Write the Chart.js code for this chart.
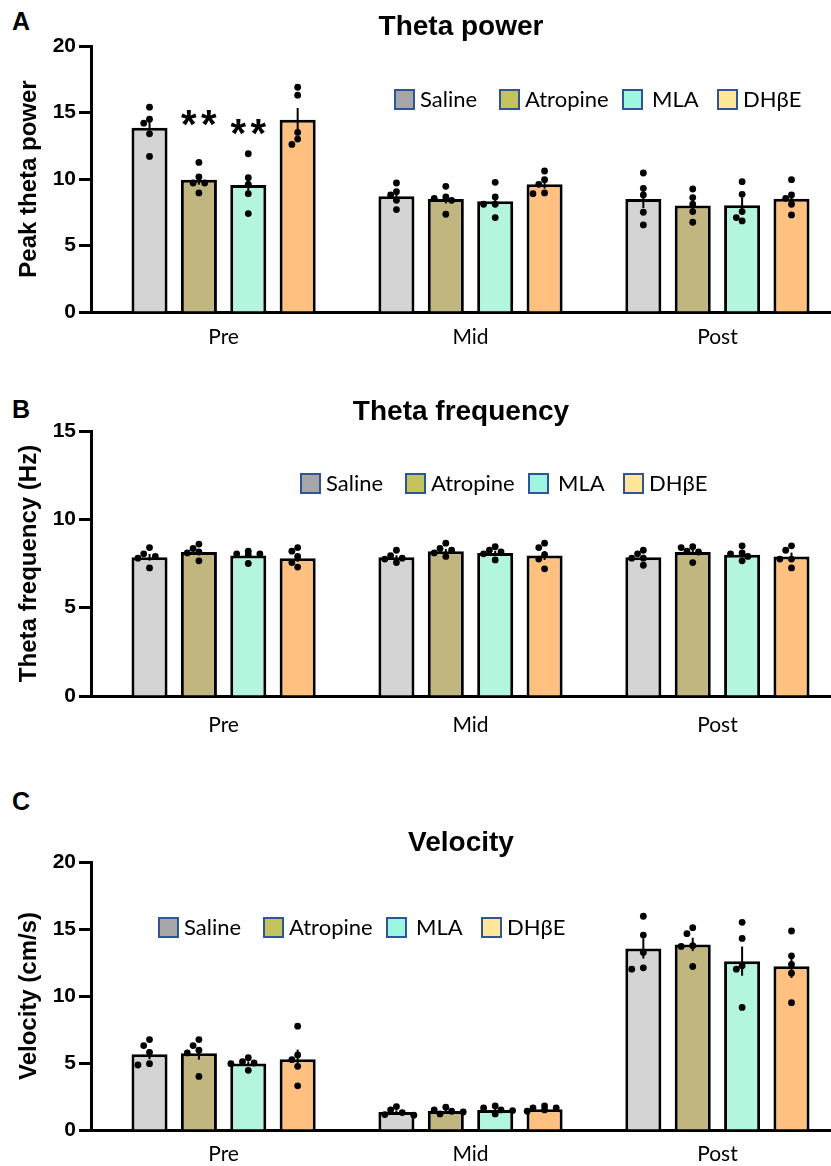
<!DOCTYPE html>
<html>
<head>
<meta charset="utf-8">
<script src="https://cdn.jsdelivr.net/npm/chart.js@4"></script>
<style>
html, body { margin: 0; padding: 0; background: #fff; overflow: hidden; }
body { width: 831px; height: 1166px; position: relative; }
.panel { position: absolute; left: 0; width: 831px; }
.letter { position: absolute; left: 12px; font: bold 25px/25px "Liberation Sans", Arial, sans-serif; color: #000; }
.legend-item { position: absolute; display: flex; align-items: center; height: 22px; font: 22px/22px Lato, "Open Sans", sans-serif; color: #000; white-space: nowrap; }
.legend-item i { display: block; width: 21px; height: 21px; box-sizing: border-box; border: 2.5px solid #2f5597; }
</style>
</head>
<body>
<div class="letter" style="top:9px">A</div>
<div class="letter" style="top:397px">B</div>
<div class="letter" style="top:789px">C</div>
<div class="panel" style="top:0;height:360px"><canvas id="chartPower"></canvas></div>
<div class="panel" style="top:385px;height:360px"><canvas id="chartFreq"></canvas></div>
<div class="panel" style="top:770px;height:396px"><canvas id="chartVel"></canvas></div>
<script>
const phases = ['Pre', 'Mid', 'Post'];
const groups = ['Saline', 'Atropine', 'MLA', 'DHβE'];
const barColors = ['#d4d4d4', '#c2b680', '#b4f5de', '#ffc080'];
const legendColors = ['#a6a6a6', '#c4c45e', '#9ef5e0', '#ffe699'];

// A - theta power (bar = mean, dots = animals)
const powerTicks = [0, 5, 10, 15, 20];
const powerSaline = [13.85, 8.7, 8.5];
const powerAtropine = [9.95, 8.5, 8.0];
const powerMLA = [9.55, 8.33, 8.03];
const powerDHbE = [14.45, 9.6, 8.52];
const powerSalineDots = [[15.4, 14.5, 14.2, 13.4, 11.7], [9.7, 9.05, 8.8, 8.4, 7.7], [10.45, 9.3, 8.8, 7.5, 6.55]];
const powerAtropineDots = [[11.25, 10.15, 9.7, 9.7, 8.95], [9.45, 8.65, 8.55, 8.4, 7.35], [9.25, 8.6, 8.1, 7.55, 6.75]];
const powerMLADots = [[11.9, 10.1, 9.6, 8.9, 7.4], [9.75, 8.65, 8.1, 8.1, 7.1], [9.8, 8.85, 7.55, 7.1, 6.85]];
const powerDHbEDots = [[16.9, 16.3, 13.5, 13.0, 12.6], [10.6, 9.95, 9.6, 8.95, 8.9], [9.95, 8.8, 8.55, 8.1, 7.3]];
const powerStars = [
  { group: 'Atropine', phase: 'Pre', y: 14.6, text: '**' },
  { group: 'MLA', phase: 'Pre', y: 13.9, text: '**' }
];

// B - theta frequency
const freqTicks = [0, 5, 10, 15];
const freqSaline = [7.85, 7.85, 7.85];
const freqAtropine = [8.15, 8.2, 8.15];
const freqMLA = [7.95, 8.1, 8.0];
const freqDHbE = [7.8, 7.95, 7.9];
const freqSalineDots = [[8.4, 8.05, 7.9, 7.8, 7.25], [8.25, 7.95, 7.8, 7.75, 7.55], [8.25, 8.05, 7.8, 7.8, 7.4]];
const freqAtropineDots = [[8.6, 8.35, 8.15, 8.1, 7.65], [8.65, 8.35, 8.25, 8.1, 7.9], [8.45, 8.4, 8.2, 8.15, 7.55]];
const freqMLADots = [[8.2, 8.05, 8.05, 8.0, 7.5], [8.45, 8.25, 8.15, 8.05, 7.7], [8.5, 8.1, 8.05, 7.9, 7.65]];
const freqDHbEDots = [[8.4, 8.2, 7.9, 7.55, 7.3], [8.65, 8.4, 8.0, 7.75, 7.2], [8.5, 8.25, 7.75, 7.75, 7.25]];

// C - velocity
const velTicks = [0, 5, 10, 15, 20];
const velSaline = [5.65, 1.35, 13.55];
const velAtropine = [5.72, 1.42, 13.85];
const velMLA = [4.97, 1.5, 12.6];
const velDHbE = [5.28, 1.55, 12.22];
const velSalineDots = [[6.75, 6.3, 5.8, 4.95, 4.85], [1.75, 1.5, 1.3, 1.15, 1.1], [15.95, 14.55, 13.25, 12.1, 12.0]];
const velAtropineDots = [[6.75, 6.3, 5.95, 5.75, 4.0], [1.7, 1.5, 1.4, 1.35, 1.2], [15.1, 14.65, 13.75, 13.7, 12.2]];
const velMLADots = [[5.4, 5.1, 5.0, 4.95, 4.45], [1.8, 1.65, 1.5, 1.45, 1.2], [15.5, 14.3, 12.25, 12.0, 9.15]];
const velDHbEDots = [[7.75, 5.6, 5.25, 4.75, 3.3], [1.8, 1.65, 1.65, 1.5, 1.4], [14.85, 13.0, 12.35, 11.7, 9.5]];

const boldFont = '"Liberation Sans", Arial, sans-serif';
const textFont = 'Lato, "Open Sans", sans-serif';

// error bars (mean +- SEM of the dots), dots and significance stars
function overlay(stars) {
  return {
    id: 'overlay',
    afterDatasetsDraw(chart) {
      const ctx = chart.ctx;
      const y = chart.scales.y;
      ctx.save();
      chart.data.datasets.forEach((ds, d) => {
        chart.getDatasetMeta(d).data.forEach((bar, i) => {
          const pts = ds.dots[i];
          const n = pts.length;
          const m = pts.reduce((a, b) => a + b, 0) / n;
          const sd = Math.sqrt(pts.reduce((a, b) => a + (b - m) ** 2, 0) / (n - 1));
          const sem = sd / Math.sqrt(n);
          const mean = ds.data[i].y;
          ctx.strokeStyle = '#000';
          ctx.lineWidth = 2;
          ctx.beginPath();
          ctx.moveTo(bar.x, y.getPixelForValue(mean - sem));
          ctx.lineTo(bar.x, y.getPixelForValue(mean + sem));
          ctx.stroke();

          const placed = [];
          ctx.fillStyle = '#000';
          pts.forEach(v => {
            const py = y.getPixelForValue(v);
            let px = bar.x;
            for (const k of [0, -1, 1, -2, 2, -3, 3]) {
              const cx = bar.x + k * 5.8;
              if (placed.every(p => Math.hypot(p[0] - cx, p[1] - py) >= 6.6)) { px = cx; break; }
            }
            placed.push([px, py]);
            ctx.beginPath();
            ctx.arc(px, py, 3.4, 0, Math.PI * 2);
            ctx.fill();
          });
        });
      });
      (stars || []).forEach(s => {
        const bar = chart.getDatasetMeta(groups.indexOf(s.group)).data[phases.indexOf(s.phase)];
        const size = 40;
        ctx.font = 'bold ' + size + 'px ' + boldFont;
        ctx.textAlign = 'center';
        ctx.textBaseline = 'middle';
        const py = y.getPixelForValue(s.y) + 0.22 * size;
        ctx.fillText('*', bar.x - 10, py);
        ctx.fillText('*', bar.x + 10, py);
      });
      ctx.restore();
    }
  };
}

function makeChart(id, s) {
  new Chart(document.getElementById(id), {
    type: 'bar',
    data: {
      datasets: groups.map((g, k) => ({
        label: g,
        data: s.means[k].map((v, i) => ({ x: i, y: v })),
        dots: s.dots[k],
        backgroundColor: barColors[k],
        borderColor: '#000',
        borderWidth: 3,
        borderSkipped: 'start',
        categoryPercentage: 0.8,
        barPercentage: 0.73
      }))
    },
    options: {
      responsive: true,
      maintainAspectRatio: false,
      animation: false,
      layout: { padding: 0 },
      plugins: {
        legend: { display: false },
        tooltip: { enabled: false },
        title: {
          display: true, text: s.title, fullSize: false, color: '#000',
          font: { family: boldFont, size: 28, weight: 'bold', lineHeight: 1.2 },
          padding: s.titlePad
        }
      },
      scales: {
        x: {
          type: 'linear', min: -0.537, max: 2.46, offset: false,
          grid: { display: false },
          border: { display: true, color: '#000', width: 3 },
          afterBuildTicks: a => { a.ticks = phases.map((p, i) => ({ value: i })); },
          afterFit: a => { a.height = s.xAxisHeight; },
          ticks: {
            callback: v => phases[v], color: '#000', padding: s.xLabelPad,
            maxRotation: 0, autoSkip: false,
            font: { family: textFont, size: 21 }
          }
        },
        y: {
          min: 0, max: s.yTicks[s.yTicks.length - 1],
          afterBuildTicks: a => { a.ticks = s.yTicks.map(v => ({ value: v })); },
          afterFit: a => { a.width = 91; },
          grid: { drawOnChartArea: false, drawTicks: true, tickLength: 12, tickWidth: 3, tickColor: '#000' },
          border: { display: true, color: '#000', width: 3 },
          ticks: { color: '#000', padding: 3, font: { family: boldFont, size: 21, weight: 'bold' } },
          title: {
            display: true, text: s.yTitle, color: '#000',
            padding: { top: 15, bottom: 0 },
            font: { family: boldFont, size: 24, weight: 'bold', lineHeight: 1.2 }
          }
        }
      }
    },
    plugins: [overlay(s.stars)]
  });
}

function makeLegend(x0, cy) {
  const offs = [0, 105, 228, 323];
  const gaps = [5, 5, 9, 5];
  groups.forEach((g, k) => {
    const item = document.createElement('div');
    item.className = 'legend-item';
    item.style.left = (x0 + offs[k]) + 'px';
    item.style.top = (cy - 11) + 'px';
    item.style.gap = gaps[k] + 'px';
    const sw = document.createElement('i');
    sw.style.background = legendColors[k];
    const label = document.createElement('span');
    label.textContent = g;
    item.appendChild(sw);
    item.appendChild(label);
    document.body.appendChild(item);
  });
}

makeChart('chartPower', {
  title: 'Theta power', yTitle: 'Peak theta power', yTicks: powerTicks,
  means: [powerSaline, powerAtropine, powerMLA, powerDHbE],
  dots: [powerSalineDots, powerAtropineDots, powerMLADots, powerDHbEDots],
  stars: powerStars,
  titlePad: { top: 10, bottom: 2.4 }, xAxisHeight: 48, xLabelPad: 5
});
makeChart('chartFreq', {
  title: 'Theta frequency', yTitle: 'Theta frequency (Hz)', yTicks: freqTicks,
  means: [freqSaline, freqAtropine, freqMLA, freqDHbE],
  dots: [freqSalineDots, freqAtropineDots, freqMLADots, freqDHbEDots],
  titlePad: { top: 10.2, bottom: 2.2 }, xAxisHeight: 49, xLabelPad: 9
});
makeChart('chartVel', {
  title: 'Velocity', yTitle: 'Velocity (cm/s)', yTicks: velTicks,
  means: [velSaline, velAtropine, velMLA, velDHbE],
  dots: [velSalineDots, velAtropineDots, velMLADots, velDHbEDots],
  titlePad: { top: 56.2, bottom: 2.2 }, xAxisHeight: 36, xLabelPad: 4
});

makeLegend(394, 99);
makeLegend(300, 483);
makeLegend(158, 927);
</script>
</body>
</html>
